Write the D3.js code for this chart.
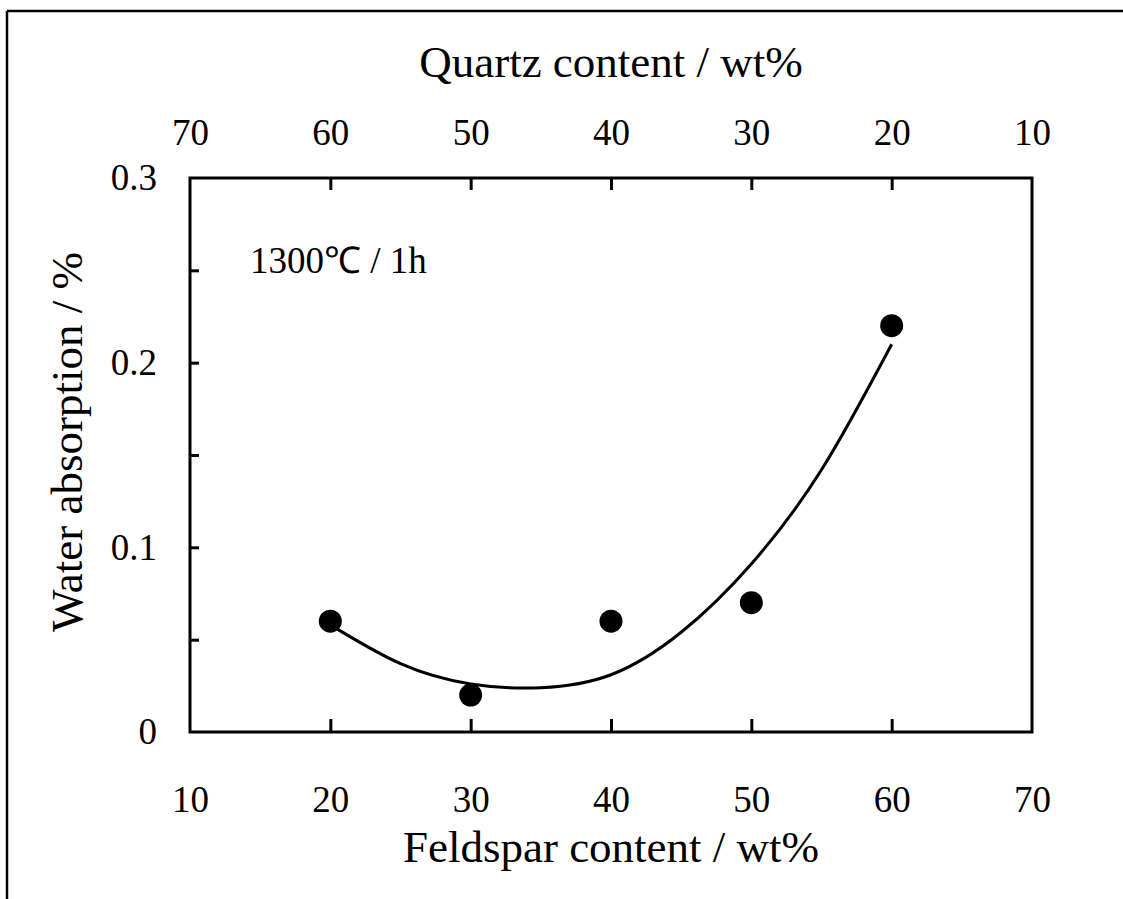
<!DOCTYPE html>
<html><head><meta charset="utf-8">
<script src="https://cdn.jsdelivr.net/npm/d3@7"></script>
<style>body{margin:0;background:#fff}svg{display:block}text{font-family:"Liberation Serif","Times New Roman",serif;fill:#000}</style>
</head><body>
<script>
const feldspar = [20, 30, 40, 50, 60];
const absorption = [0.06, 0.02, 0.06, 0.07, 0.22];
const fitX = [20, 25, 30, 35, 40, 45, 50, 55, 60];
const fitY = [0.058, 0.037, 0.026, 0.024, 0.031, 0.054, 0.091, 0.142, 0.210];
const xTicks = [10, 20, 30, 40, 50, 60, 70];
const quartzTicks = [70, 60, 50, 40, 30, 20, 10];
const yTicks = [0, 0.1, 0.2, 0.3];
const yMinorTicks = [0.05, 0.1, 0.15, 0.2, 0.25];
const xInnerTicks = [20, 30, 40, 50, 60];
const quartzInnerTicks = [60, 50, 40, 30, 20];
const annotation = "1300℃ / 1h";

const W = 1123, H = 899;
const L = 190, R = 1032, T = 178, B = 732;
const svg = d3.select("body").append("svg").attr("width", W).attr("height", H);

const x = d3.scaleLinear().domain([10, 70]).range([L, R]);
const xq = d3.scaleLinear().domain([70, 10]).range([L, R]);
const y = d3.scaleLinear().domain([0, 0.3]).range([B, T]);

// outer frame (left and top)
svg.append("line").attr("x1", 7).attr("y1", 11).attr("x2", 7).attr("y2", H).attr("stroke", "#000").attr("stroke-width", 2.5);
svg.append("line").attr("x1", 7).attr("y1", 11).attr("x2", W).attr("y2", 11).attr("stroke", "#000").attr("stroke-width", 2.5);

const FS = 37, TFS = 45;
// bottom axis labels
const gB = svg.append("g").attr("transform", `translate(0,${B})`)
  .call(d3.axisBottom(x).tickValues(xTicks).tickSize(0).tickPadding(0).tickFormat(d3.format("d")));
gB.select(".domain").remove();
gB.selectAll("text").attr("font-size", FS).attr("dy", null).attr("y", 80).attr("font-family", "Liberation Serif");

// top axis labels
const gT = svg.append("g").attr("transform", `translate(0,${T})`)
  .call(d3.axisTop(xq).tickValues(quartzTicks).tickSize(0).tickPadding(0).tickFormat(d3.format("d")));
gT.select(".domain").remove();
gT.selectAll("text").attr("font-size", FS).attr("y", -33).attr("font-family", "Liberation Serif");

// left axis labels
const gL = svg.append("g").attr("transform", `translate(${L},0)`)
  .call(d3.axisLeft(y).tickValues(yTicks).tickSize(0).tickPadding(33).tickFormat(d => d === 0 ? "0" : d3.format(".1f")(d)));
gL.select(".domain").remove();
gL.selectAll("text").attr("font-size", FS).attr("font-family", "Liberation Serif");

// inner ticks via axes
function innerTicks(g) {
  g.select(".domain").remove();
  g.selectAll(".tick text").remove();
  g.selectAll(".tick line").attr("stroke", "#000").attr("stroke-width", 3);
}
svg.append("g").attr("transform", `translate(${L},0)`)
  .call(d3.axisLeft(y).tickValues(yMinorTicks).tickSize(-9).tickFormat("")).call(innerTicks);
svg.append("g").attr("transform", `translate(0,${B})`)
  .call(d3.axisBottom(x).tickValues(xInnerTicks).tickSize(-13).tickFormat("")).call(innerTicks);
svg.append("g").attr("transform", `translate(0,${T})`)
  .call(d3.axisTop(xq).tickValues(quartzInnerTicks).tickSize(-12).tickFormat("")).call(innerTicks);

// plot frame
svg.append("rect").attr("x", L).attr("y", T).attr("width", R - L).attr("height", B - T)
  .attr("fill", "none").attr("stroke", "#000").attr("stroke-width", 3);

// fit curve
const pts = fitX.map((v, i) => [v, fitY[i]]);
svg.append("path").datum(pts)
  .attr("d", d3.line().x(d => x(d[0])).y(d => y(d[1])).curve(d3.curveNatural))
  .attr("fill", "none").attr("stroke", "#000").attr("stroke-width", 3);

// points
svg.append("g").selectAll("circle").data(feldspar).join("circle")
  .attr("cx", d => x(d)).attr("cy", (d, i) => y(absorption[i])).attr("r", 11.5).attr("fill", "#000");

// titles
svg.append("text").attr("x", (L + R) / 2).attr("y", 77).attr("text-anchor", "middle").attr("font-size", TFS).text("Quartz content / wt%");
svg.append("text").attr("x", (L + R) / 2).attr("y", 862).attr("text-anchor", "middle").attr("font-size", TFS).text("Feldspar content / wt%");
svg.append("text").attr("transform", "translate(82,442) rotate(-90)").attr("text-anchor", "middle").attr("font-size", TFS).text("Water absorption / %");
svg.append("text").attr("x", 250).attr("y", 273).attr("font-size", 37).text(annotation);
</script>
</body></html>
